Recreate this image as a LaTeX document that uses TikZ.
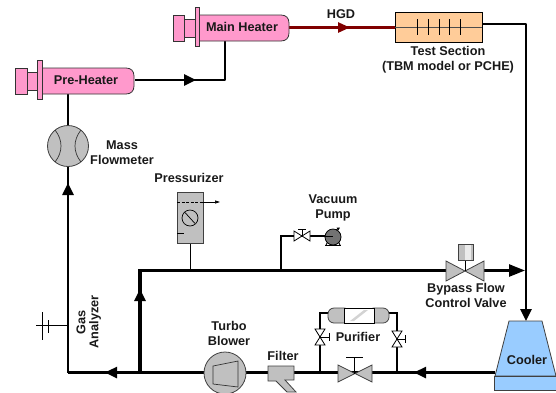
\documentclass[tikz,border=0pt]{standalone}
\usepackage{fontspec}
\setmainfont{Liberation Sans}
\usetikzlibrary{arrows.meta,calc}
\tikzset{
  pipe/.style={line width=2.5pt,draw=black,line cap=butt},
  thickpipe/.style={line width=3.2pt,draw=black},
  thinpipe/.style={line width=0.9pt,draw=black},
  redpipe/.style={line width=2.5pt,draw=red!50!black},
  tipped/.style={-{Triangle[length=12pt,width=11pt]}},
  heater/.style={draw=black!80,line width=0.8pt,fill=pinkfill},
  label/.style={font=\fontsize{12.7}{15}\selectfont\bfseries,align=center,inner sep=0pt,text=black!90},
  gray part/.style={draw=black!75,line width=0.8pt,fill=partgray},
  valve body/.style={draw=black!75,line width=0.8pt,fill=partgray},
  small valve/.style={draw=black,line width=0.8pt,fill=white},
}
\definecolor{pinkfill}{HTML}{FF99CC}
\definecolor{partgray}{HTML}{C0C0C0}
\definecolor{peach}{HTML}{FFCC99}
\definecolor{coolerblue}{HTML}{99CCFF}
\begin{document}
\begin{tikzpicture}[x=1pt,y=-1pt]
\useasboundingbox (0,0) rectangle (556,392);
% junctions
\coordinate (preTop) at (68,94);
\coordinate (preOut) at (135,80);
\coordinate (preTip) at (196,80);
\coordinate (mainCorner) at (225,80);
\coordinate (mainIn) at (225,41);
\coordinate (heatOut) at (289,27.5);
\coordinate (hgdTip) at (350,27.5);
\coordinate (testIn) at (395,27.5);
\coordinate (testOut) at (482,24);
\coordinate (testCorner) at (526,24);
\coordinate (coolTop) at (526,321);
\coordinate (coolOut) at (495,372.5);
\coordinate (retTip) at (414,372.5);
\coordinate (jRight) at (397,372.5);
\coordinate (jLeft) at (320,372.5);
\coordinate (jMain) at (140,372.5);
\coordinate (jCorner) at (68,372.5);
\coordinate (leftTip) at (105,372.5);
\coordinate (upTip) at (68,183);
\coordinate (riserTip) at (140,289);
\coordinate (jTop) at (140,270.5);
\coordinate (jPress) at (190,270.5);
\coordinate (jVac) at (281,270.5);
\coordinate (bypTip) at (525,270.5);
\coordinate (gasJ) at (68,325);
\coordinate (gasEnd) at (36,325);
% pipes
\draw[pipe,line join=round] (jCorner) -- (68,166);
\draw[pipe,tipped] (68,200) -- (upTip);
\draw[pipe] (68,126) -- (preTop);
\draw[pipe,line join=round] (preOut) -- (mainCorner) -- (mainIn);
\draw[pipe,tipped] (preOut) -- (preTip);
\draw[redpipe] (heatOut) -- (testIn);
\draw[redpipe,-{Triangle[length=12pt,width=10pt]}] (heatOut) -- (hgdTip);
\draw[pipe,line join=round] (testOut) -- (testCorner) -- (526,310);
\draw[pipe,tipped] (526,300) -- (coolTop);
\draw[pipe] (coolOut) -- (jCorner);
\draw[pipe,tipped] (coolOut) -- (retTip);
\draw[thickpipe] (jMain) -- (275,372.5);
\draw[pipe,tipped] (jMain) -- (leftTip);
\draw[thickpipe,line join=miter] (jMain) -- (jTop) -- (446,270.5);
\draw[thickpipe,-{Triangle[length=12pt,width=11pt]}] (jMain) -- (riserTip);
\draw[pipe,-{Triangle[length=16pt,width=12pt]}] (484,270.5) -- (bypTip);
\draw[thinpipe] (190,243) -- (jPress);
\draw[line width=1.2pt] (jVac) -- (281,236) -- (325,236);
\draw[line width=1.4pt] (jLeft) -- (320,313) -- (330,313);
\draw[line width=1.4pt] (jRight) -- (397,313) -- (387,313);
% Gas analyzer
\draw[line width=0.9pt] (gasJ) -- (gasEnd);
\draw[line width=0.9pt] (42,312) -- (42,340);
\draw[line width=0.9pt] (48,320) -- (48,333);
\node[label,rotate=90] (gas) at (81,322) {Gas};
\node[label,rotate=90] (analyzer) at (95,322) {Analyzer};
% Pre-heater
\draw[heater] (15,68) rectangle (27,94);
\draw[heater] (27,72) rectangle (38,90);
\draw[heater] (42,68) -- (126,68) .. controls (131,68) and (134,71) .. (134,76) -- (134,86) .. controls (134,91) and (131,94) .. (126,94) -- (42,94) -- cycle;
\draw[heater] (37,60) rectangle (42,99);
\node[label] (pre) at (86,80) {Pre-Heater};
% Main heater
\draw[heater] (173,15) rectangle (184,41);
\draw[heater] (184,19) rectangle (195,37);
\draw[heater] (199,15) -- (281,15) .. controls (286,15) and (289,18) .. (289,23) -- (289,33) .. controls (289,38) and (286,41) .. (281,41) -- (199,41) -- cycle;
\draw[heater] (195,7) rectangle (199,46);
\node[label] (main) at (242,27) {Main Heater};
\node[label] (hgd) at (341,14) {HGD};
% Test section
\draw[draw=black,line width=0.8pt,fill=peach] (395,12) rectangle (482,42);
\draw[line width=0.7pt,draw=black!70] (395,27) -- (482,27);
\foreach \x in {417,428,439,449,460}{\draw[line width=0.6pt] (\x,19) -- (\x,35);}
\node[label] (test) at (448,59.5) {Test Section\\(TBM model or PCHE)};
% Mass flowmeter
\node[circle,draw=black!75,line width=0.8pt,fill=partgray,minimum size=41pt,inner sep=0pt,outer sep=0pt] (flow) at (68,146) {};
\draw[line width=0.7pt,draw=black!80] (55,130) .. controls (63,140) and (63,152) .. (55,162);
\draw[line width=0.7pt,draw=black!80] (81,130) .. controls (73,140) and (73,152) .. (81,162);
\node[label] (mass) at (122,152.5) {Mass\\Flowmeter};
% Pressurizer
\node[label] (press) at (189,178) {Pressurizer};
\draw[gray part] (177,192) rectangle (203,243);
\draw[line width=0.7pt,dash pattern=on 3pt off 1.5pt] (177,202) -- (203,202);
\draw[line width=0.6pt,-{Triangle[length=5pt,width=3pt]}] (203,202) -- (220,202);
\draw[line width=0.7pt] (190,218) circle (8);
\draw[line width=0.7pt] (185,212.5) -- (195,223.5);
\draw[line width=0.7pt] (177,233) -- (184,233);
% Vacuum pump
\node[label] (vac) at (333,207.5) {Vacuum\\Pump};
\draw[small valve] (294,231) -- (310,241) -- (310,231) -- (294,241) -- cycle;
\draw[line width=0.7pt] (302,236) -- (302,229);
\draw[line width=0.7pt] (298,229) -- (306,229);
\draw[line width=1pt] (325,245) -- (341,245);
\draw[line width=0.9pt] (328,241) -- (326,245) (338,241) -- (340,245);
\node[circle,draw=black,line width=0.8pt,fill=black!55,minimum size=16pt,inner sep=0pt] (pump) at (333,237) {};
\draw[line width=0.8pt] (325,236) -- (333,236);
\draw[line width=0.8pt,-{Triangle[length=3pt,width=3pt]}] (336,230) -- (340,227.5);
% Bypass valve
\draw[valve body] (446,261) -- (484,281) -- (484,261) -- (446,281) -- cycle;
\draw[line width=0.7pt] (465,271) -- (465,260);
\draw[gray part] (458,244) rectangle (473,260);
\fill[white!92!black] (464.5,244.5) rectangle (471,259.5);
\node[label] (byp) at (466,295.5) {Bypass Flow\\Control Valve};
% Cooler
\draw[draw=black!75,line width=0.8pt,fill=coolerblue] (509,321) -- (542,321) -- (556,376) -- (495,376) -- cycle;
\draw[draw=black!75,line width=0.8pt,fill=coolerblue] (494,376) rectangle (556,390);
\node[label] (cooler) at (527,359.5) {Cooler};
% Main valve
\draw[valve body] (338,365) -- (372,382) -- (372,365) -- (338,382) -- cycle;
\draw[line width=0.8pt] (354.5,373.5) -- (354.5,357);
\draw[line width=0.8pt] (346,357) -- (363,357);
% Purifier
\draw[gray part,rounded corners=6pt] (350,308) rectangle (328,323);
\draw[gray part,rounded corners=6pt] (368,308) rectangle (389,323);
\draw[draw=black,line width=0.8pt,fill=white] (344,308) rectangle (374,323);
\fill[partgray!70] (350,321) -- (354,321) -- (368,310) -- (364,310) -- cycle;
\node[label] (pur) at (358,337) {Purifier};
\draw[small valve] (315,329) -- (325,345) -- (315,345) -- (325,329) -- cycle;
\draw[line width=0.7pt] (320,337) -- (329,337) (329,333) -- (329,341);
\draw[small valve] (392,331) -- (402,347) -- (392,347) -- (402,331) -- cycle;
\draw[line width=0.7pt] (397,339) -- (405,339) (405,335) -- (405,343);
% Filter
\draw[gray part] (268,366) -- (294,366) -- (294,380) -- (285,380) -- (296,392) -- (287,392) -- (276,381) -- (268,381) -- cycle;
\node[label] (filt) at (283,356) {Filter};
% Blower
\node[circle,draw=black!75,line width=0.8pt,fill=partgray,minimum size=42pt,inner sep=0pt,outer sep=0pt] (blower) at (225,373) {};
\draw[line width=0.7pt,draw=black!80] (213,366) -- (238,361) -- (238,387) -- (213,384) -- cycle;
\node[label] (turbo) at (229,333) {Turbo\\Blower};
\end{tikzpicture}
\end{document}
